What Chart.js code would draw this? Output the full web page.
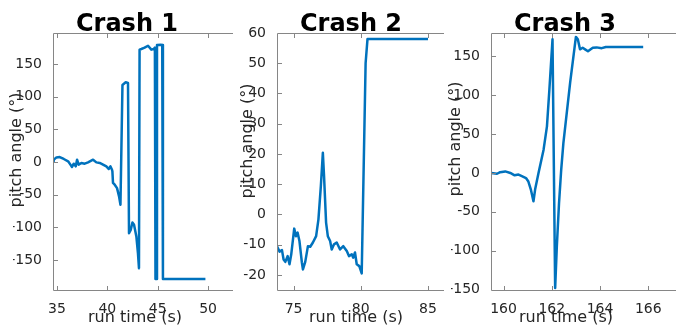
<!DOCTYPE html>
<html>
<head>
<meta charset="utf-8">
<title>Crash pitch angle</title>
<script src="https://cdn.jsdelivr.net/npm/chart.js@4.4.1/dist/chart.umd.min.js"></script>
<style>
  html, body { margin: 0; padding: 0; background: #fff; }
  #wrap { position: relative; width: 676px; height: 325px; overflow: hidden; }
  #wrap canvas { position: absolute; left: 0; top: 0; }
</style>
</head>
<body>
<div id="wrap">
  <canvas id="crash1" width="676" height="325"></canvas>
  <canvas id="crash2" width="676" height="325"></canvas>
  <canvas id="crash3" width="676" height="325"></canvas>
</div>
<script>
// Crash 1: run time (s) and pitch angle (deg)
const time1 = [34.6, 34.67, 34.94, 35.27, 35.67, 36.1, 36.33, 36.49, 36.66, 36.86, 36.99, 37.15, 37.42, 37.75, 38.08, 38.58, 38.91, 39.24, 39.57, 39.9, 40.13, 40.3, 40.46, 40.5, 40.56, 40.73, 40.96, 41.16, 41.3, 41.5, 41.82, 42.05, 42.15, 42.32, 42.49, 42.65, 42.88, 43.04, 43.14, 43.2, 43.38, 43.7, 44.04, 44.37, 44.6, 44.72, 44.78, 44.88, 44.93, 45.3, 45.45, 45.52, 49.74];
const pitch1 = [1, 3.5, 7, 7.6, 4.6, 1, -4, -7.7, -2.6, -6.7, 3.5, -4, -1.5, -2.6, -0.6, 3.5, -0.6, -1.5, -4, -6.7, -10.8, -6.7, -11.8, -14.4, -32, -34.8, -40, -52.7, -65.5, 118, 122, 121, -109, -104, -92.6, -96, -114, -140, -162.6, 172, 173, 175, 178, 172, 173, 175, -179, -179, 179, 179.5, 179, -179, -179];

// Crash 2
const time2 = [73.77, 73.96, 74.14, 74.26, 74.39, 74.56, 74.7, 74.83, 75.05, 75.18, 75.3, 75.44, 75.62, 75.7, 75.87, 76.07, 76.24, 76.44, 76.68, 76.85, 77.03, 77.18, 77.27, 77.42, 77.55, 77.72, 77.84, 78.01, 78.21, 78.46, 78.7, 78.96, 79.13, 79.33, 79.44, 79.57, 79.7, 79.89, 80.07, 80.36, 80.5, 85.0];
const pitch2 = [-10.5, -12.3, -11.8, -14.9, -15.7, -13.8, -16.5, -13.2, -4.7, -7.2, -6, -8.8, -15.9, -18.2, -15.7, -10.5, -10.7, -9.3, -7.2, -1.7, 9.3, 20.4, 12.6, -2.7, -7.2, -8.8, -11.6, -9.9, -9.3, -11.6, -10.5, -12.1, -13.8, -13.2, -14.3, -12.6, -16.5, -17.1, -19.5, 50, 58, 58];

// Crash 3
const time3 = [159.49, 159.73, 159.86, 160.07, 160.28, 160.46, 160.62, 160.76, 160.93, 161.03, 161.13, 161.24, 161.31, 161.45, 161.66, 161.8, 161.9, 162.03, 162.14, 162.21, 162.3, 162.39, 162.48, 162.76, 163.0, 163.08, 163.17, 163.28, 163.38, 163.5, 163.7, 163.86, 164.07, 164.24, 165.79];
const pitch3 = [0, -1, 1, 2, 0, -3, -2, -4, -6.5, -11, -21, -36.5, -21, 0, 30, 60, 107, 172, -148, -94, -39, 4, 38, 116, 175, 172, 159, 161, 159, 156.5, 161, 161.5, 160.5, 162, 162];

// tick values for each panel
const xTicks1 = [35, 40, 45, 50];
const yTicks1 = [-150, -100, -50, 0, 50, 100, 150];
const xTicks2 = [75, 80, 85];
const yTicks2 = [-20, -10, 0, 10, 20, 30, 40, 50, 60];
const xTicks3 = [160, 162, 164, 166];
const yTicks3 = [-150, -100, -50, 0, 50, 100, 150];

const AXIS_GREY = "#868686";
const TEXT_GREY = "#262626";
const LINE_BLUE = "#0072bd";
const FONT = "'DejaVu Sans', sans-serif";

// left axis, top/bottom edges, inward tick marks, title and axis labels
const panelDecor = {
  id: "panelDecor",
  afterDraw(chart, args, opts) {
    const { ctx, chartArea: a, scales } = chart;
    const tl = 4;
    ctx.save();
    ctx.strokeStyle = AXIS_GREY;
    ctx.lineWidth = 1;
    ctx.beginPath();
    ctx.moveTo(a.right, a.top + 0.5);
    ctx.lineTo(a.left + 0.5, a.top + 0.5);
    ctx.lineTo(a.left + 0.5, a.bottom + 0.5);
    ctx.lineTo(a.right, a.bottom + 0.5);
    scales.x.ticks.forEach((t) => {
      const px = Math.round(scales.x.getPixelForValue(t.value)) + 0.5;
      ctx.moveTo(px, a.bottom);
      ctx.lineTo(px, a.bottom - tl);
      ctx.moveTo(px, a.top + 1);
      ctx.lineTo(px, a.top + 1 + tl);
    });
    scales.y.ticks.forEach((t) => {
      const py = Math.round(scales.y.getPixelForValue(t.value)) + 0.5;
      ctx.moveTo(a.left + 1, py);
      ctx.lineTo(a.left + 1 + tl, py);
    });
    ctx.stroke();

    ctx.fillStyle = "#000";
    ctx.font = "bold 24px " + FONT;
    ctx.textAlign = "center";
    ctx.textBaseline = "alphabetic";
    ctx.fillText(opts.title, opts.titleX, 30.5);

    ctx.fillStyle = TEXT_GREY;
    ctx.font = "16px " + FONT;
    ctx.fillText("run time (s)", opts.xLabelX, 322);

    ctx.translate(opts.yLabelX, opts.yLabelY);
    ctx.rotate(-Math.PI / 2);
    ctx.textBaseline = "middle";
    ctx.fillText("pitch angle (°)", 0, 0);
    ctx.restore();
  },
};

function makePanel(id, time, pitch, p) {
  const points = time.map((t, i) => ({ x: t, y: pitch[i] }));
  const tickFont = { family: FONT, size: 14 };
  return new Chart(document.getElementById(id), {
    type: "line",
    data: {
      datasets: [{
        data: points,
        borderColor: LINE_BLUE,
        borderWidth: 2.5,
        borderJoinStyle: "round",
        pointRadius: 0,
        tension: 0,
        fill: false,
      }],
    },
    options: {
      responsive: false,
      animation: false,
      events: [],
      layout: {
        padding: { left: p.left - 40, right: 676 - p.right, top: p.top, bottom: 325 - p.bottom - 30 },
      },
      scales: {
        x: {
          type: "linear",
          min: p.xMin,
          max: p.xMax,
          grid: { display: false },
          border: { display: false },
          afterBuildTicks: (axis) => { axis.ticks = p.xTicks.map((v) => ({ value: v })); },
          afterFit: (axis) => { axis.height = 30; },
          ticks: { font: tickFont, color: TEXT_GREY, padding: 3, maxRotation: 0, autoSkip: false },
        },
        y: {
          type: "linear",
          min: p.yMin,
          max: p.yMax,
          grid: { display: false },
          border: { display: false },
          afterBuildTicks: (axis) => { axis.ticks = p.yTicks.map((v) => ({ value: v })); },
          afterFit: (axis) => { axis.width = 40; },
          ticks: { font: tickFont, color: TEXT_GREY, padding: 3, autoSkip: false },
        },
      },
      plugins: {
        legend: { display: false },
        tooltip: { enabled: false },
        panelDecor: {
          title: p.title,
          titleX: p.titleX,
          xLabelX: p.xLabelX,
          yLabelX: p.yLabelX,
          yLabelY: p.yLabelY,
        },
      },
    },
    plugins: [panelDecor],
  });
}

makePanel("crash1", time1, pitch1, {
  title: "Crash 1", titleX: 127, xLabelX: 135, yLabelX: 16.7, yLabelY: 150,
  left: 53, right: 233, top: 33, bottom: 290,
  xMin: 34.6, xMax: 52.48, yMin: -196, yMax: 197.5,
  xTicks: xTicks1, yTicks: yTicks1,
});

makePanel("crash2", time2, pitch2, {
  title: "Crash 2", titleX: 351, xLabelX: 356, yLabelX: 247.5, yLabelY: 141,
  left: 277, right: 444, top: 33, bottom: 290,
  xMin: 73.77, xMax: 86.19, yMin: -25, yMax: 60,
  xTicks: xTicks2, yTicks: yTicks2,
});

makePanel("crash3", time3, pitch3, {
  title: "Crash 3", titleX: 565, xLabelX: 566, yLabelX: 456, yLabelY: 139,
  left: 491, right: 676, top: 33, bottom: 290,
  xMin: 159.48, xMax: 167.15, yMin: -150.5, yMax: 180,
  xTicks: xTicks3, yTicks: yTicks3,
});
</script>
</body>
</html>
